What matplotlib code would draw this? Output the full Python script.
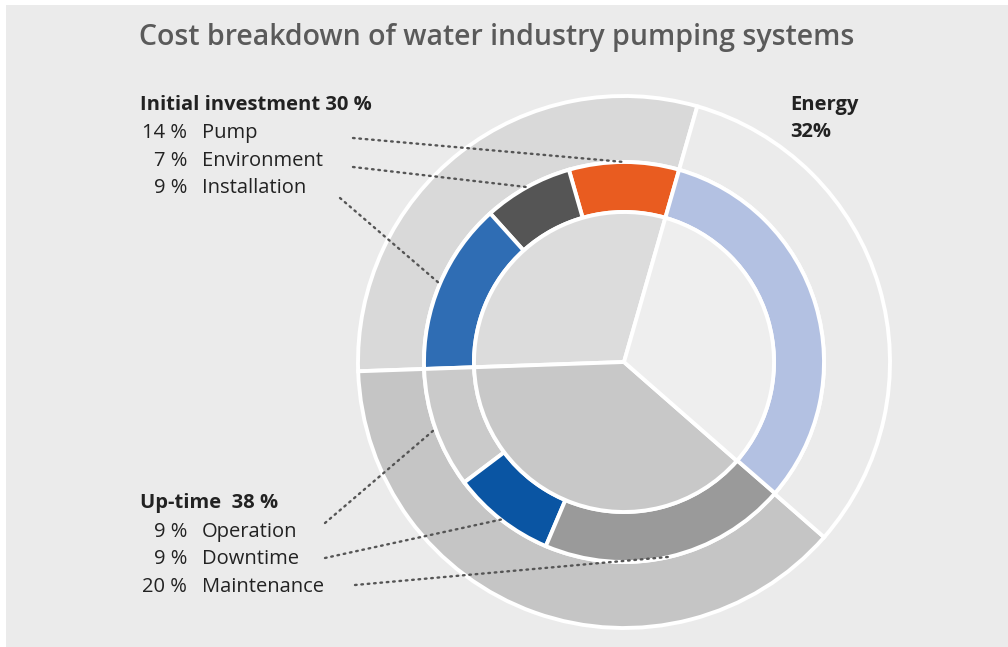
import numpy as np
import matplotlib
matplotlib.use("Agg")
import matplotlib.pyplot as plt
from matplotlib.patches import Rectangle

# share of total life-cycle cost per group (%), drawn as outer ring + inner pie
groups = ["Initial investment", "Up-time", "Energy"]
group_pct = [30, 38, 32]

# middle ring, arc spans as drawn in the graphic (degrees, not proportional)
ring_names = ["Pump", "Environment", "Installation", "Operation", "Downtime",
              "Maintenance", "Energy"]
ring_span_deg = [32, 26, 50, 35, 30, 72, 115]

# label text
init_items = [("14 %", "Pump"), ("7 %", "Environment"), ("9 %", "Installation")]
uptime_items = [("9 %", "Operation"), ("9 %", "Downtime"), ("20 %", "Maintenance")]

W, H = 1008, 647
CX, CY = 624, H - 362
START = 74

outer_colors = ["#d9d9d9", "#c5c5c5", "#ebebeb"]
inner_colors = ["#dcdcdc", "#c8c8c8", "#eeeeee"]
ring_colors = ["#e95c20", "#555555", "#2f6db4", "#cacaca", "#0a55a3",
               "#9a9a9a", "#b3c1e2"]

FONT = "Open Sans"
TXT = "#222222"

fig = plt.figure(figsize=(W / 100, H / 100), dpi=100, facecolor="white")
ax = fig.add_axes([0, 0, 1, 1])
ax.add_patch(Rectangle((6, 0), W - 6, H - 5, facecolor="#ebebeb", edgecolor="none",
                       zorder=0))

edge = dict(edgecolor="white", linewidth=2.8)
ax.pie(group_pct, radius=266, center=(CX, CY), startangle=START, colors=outer_colors,
       wedgeprops=dict(width=66, **edge))
ax.pie(ring_span_deg, radius=200, center=(CX, CY), startangle=START, colors=ring_colors,
       wedgeprops=dict(width=50, **edge))
ax.pie(group_pct, radius=150, center=(CX, CY), startangle=START, colors=inner_colors,
       wedgeprops=edge)

ax.set_xlim(0, W)
ax.set_ylim(0, H)
ax.axis("off")

# mid-angle of each ring segment, used as leader-line targets
bounds = START + np.concatenate([[0], np.cumsum(ring_span_deg)])
mids = (bounds[:-1] + bounds[1:]) / 2


def ring_point(i, r=200):
    a = np.deg2rad(mids[i])
    return CX + r * np.cos(a), CY + r * np.sin(a)


def leader(x0, y0, i):
    x1, y1 = ring_point(i)
    ax.plot([x0, x1], [y0, y1], color="#555555", lw=1.7, ls=(0, (0.7, 2.0)),
            dash_capstyle="round", zorder=5)


ax.text(497, H - 37, "Cost breakdown of water industry pumping systems",
        family=FONT, weight="semibold", fontsize=20.5, color="#5a5a5a",
        ha="center", va="center")

fs = 14.5
ax.text(140, H - 105, f"{groups[0]} {group_pct[0]} %", family=FONT, weight="bold",
        fontsize=fs, color=TXT, va="center")
for k, (p, name) in enumerate(init_items):
    y = H - (133 + 27.5 * k)
    ax.text(187, y, p, family=FONT, fontsize=fs, color=TXT, ha="right", va="center")
    ax.text(202, y, name, family=FONT, fontsize=fs, color=TXT, va="center")

ax.text(140, H - 503, f"{groups[1]}  {group_pct[1]} %", family=FONT, weight="bold",
        fontsize=fs, color=TXT, va="center")
for k, (p, name) in enumerate(uptime_items):
    y = H - (532 + 27.5 * k)
    ax.text(187, y, p, family=FONT, fontsize=fs, color=TXT, ha="right", va="center")
    ax.text(202, y, name, family=FONT, fontsize=fs, color=TXT, va="center")

ax.text(790, H - 105, groups[2], family=FONT, weight="bold", fontsize=fs, color=TXT,
        va="center")
ax.text(790, H - 132, f"{group_pct[2]}%", family=FONT, weight="bold", fontsize=fs,
        color=TXT, va="center")

leader(353, H - 138, 0)
leader(353, H - 167, 1)
leader(340, H - 198, 2)
leader(325, H - 523, 3)
leader(325, H - 558, 4)
leader(355, H - 585, 5)

fig.savefig("out.png", dpi=100, facecolor="white")
